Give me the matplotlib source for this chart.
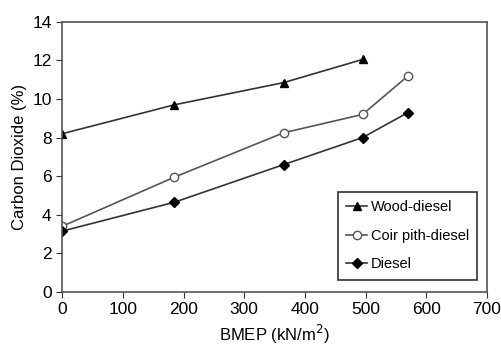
import numpy as np
import matplotlib.pyplot as plt

# -----------------------------------
# Data
# -----------------------------------

wood_x = [0, 185, 365, 495]
wood_y = [8.2, 9.7, 10.85, 12.05]

coir_x = [0, 185, 365, 495, 570]
coir_y = [3.4, 5.95, 8.25, 9.2, 11.2]

diesel_x = [0, 185, 365, 495, 570]
diesel_y = [3.15, 4.65, 6.6, 8.0, 9.3]

x_ticks = [0, 100, 200, 300, 400, 500, 600, 700]
y_ticks = [0, 2, 4, 6, 8, 10, 12, 14]

# -----------------------------------
# Plot
# -----------------------------------

plt.rcParams['font.family'] = ['Liberation Sans', 'DejaVu Sans']

fig = plt.figure(figsize=(5.01, 3.64), dpi=100)
ax = fig.add_axes([0.124, 0.198, 0.848, 0.742])

line_col = "#333333"

ax.plot(wood_x, wood_y, color=line_col, lw=1.2, marker="^", ms=6,
        mfc="black", mec="black", label="Wood-diesel")
ax.plot(coir_x, coir_y, color="#555555", lw=1.2, marker="o", ms=6,
        mfc="white", mec="#555555", label="Coir pith-diesel")
ax.plot(diesel_x, diesel_y, color=line_col, lw=1.2, marker="D", ms=5,
        mfc="black", mec="black", label="Diesel")

ax.set_xlim(0, 700)
ax.set_ylim(0, 14)
ax.set_xticks(x_ticks)
ax.set_yticks(y_ticks)
ax.tick_params(direction="out", length=4, labelsize=12.5, color="#333333")

for s in ax.spines.values():
    s.set_color("#555555")
    s.set_linewidth(1.2)

ax.set_xlabel("BMEP (kN/m$^2$)", fontsize=12)
ax.set_ylabel("Carbon Dioxide (%)", fontsize=12)

leg = ax.legend(loc="lower right", bbox_to_anchor=(0.976, 0.046), fontsize=10.5,
                frameon=True, fancybox=False, edgecolor="black",
                handlelength=1.4, handletextpad=0.25, borderpad=0.55,
                labelspacing=1.0, borderaxespad=0)
leg.get_frame().set_linewidth(1.2)

plt.savefig("out.png", dpi=100)
